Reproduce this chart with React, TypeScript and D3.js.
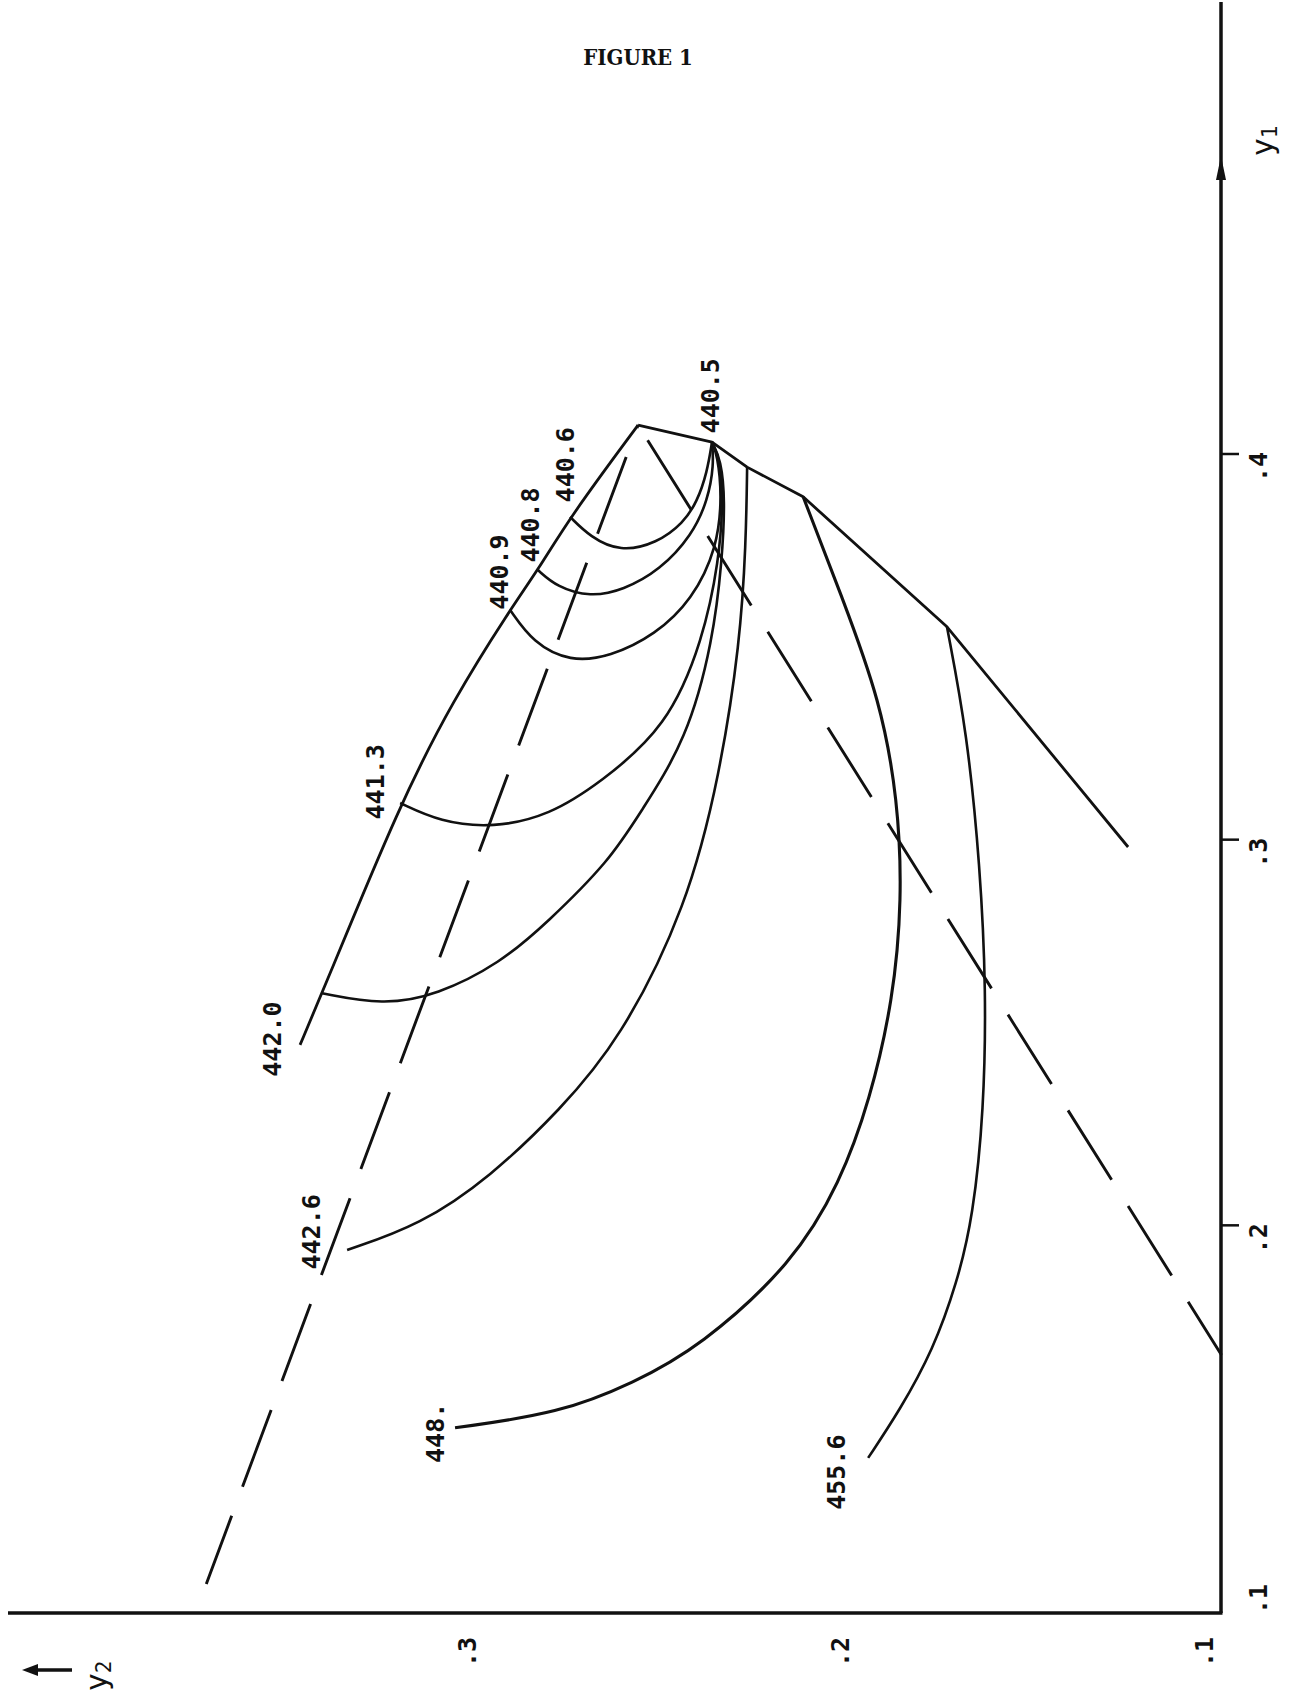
import React from 'react';
import * as d3 from 'd3';

// every point is [y2, y1]
type Pt = [number, number];

const envelopeUpper: Pt[] = [
  [0.2542, 0.4075], [0.2344, 0.4031], [0.225, 0.3966], [0.21, 0.3889], [0.1715, 0.3552], [0.123, 0.2981],
];
const envelopeLeft: Pt[] = [
  [0.2542, 0.4075], [0.2724, 0.3837], [0.281, 0.3699], [0.2885, 0.3596], [0.3037, 0.3362],
  [0.3179, 0.3095], [0.3388, 0.2602], [0.3447, 0.2468],
];
const dashedLeft: Pt[] = [[0.2542, 0.4075], [0.3698, 0.107]];
const dashedRight: Pt[] = [[0.2542, 0.4075], [0.098, 0.1664]];

const c4406: Pt[] = [
  [0.2724, 0.3837], [0.267, 0.3785], [0.259, 0.3746], [0.2491, 0.3769], [0.2421, 0.3821],
  [0.2384, 0.3876], [0.2357, 0.3953], [0.2344, 0.4031],
];
const c4408: Pt[] = [
  [0.281, 0.3699], [0.2759, 0.3655], [0.267, 0.3629], [0.2582, 0.3647], [0.2483, 0.3699],
  [0.2397, 0.379], [0.2355, 0.3881], [0.2339, 0.3972], [0.2344, 0.4031],
];
const c4409: Pt[] = [
  [0.2885, 0.3596], [0.2823, 0.351], [0.2724, 0.3461], [0.2617, 0.3474], [0.2496, 0.3531],
  [0.2397, 0.3622], [0.233, 0.3756], [0.2317, 0.3894], [0.233, 0.3998], [0.2344, 0.4031],
];
const c4413: Pt[] = [
  [0.3179, 0.3095], [0.3072, 0.3046], [0.293, 0.303], [0.2778, 0.3064], [0.2644, 0.3147],
  [0.2464, 0.3292], [0.2368, 0.3518], [0.2325, 0.3725], [0.2314, 0.3881], [0.2322, 0.3985], [0.2344, 0.4031],
];
const c4420: Pt[] = [
  [0.3388, 0.2602], [0.3225, 0.2571], [0.308, 0.2597], [0.2911, 0.268], [0.2786, 0.2784],
  [0.2617, 0.2947], [0.2537, 0.3069], [0.2411, 0.3259], [0.2341, 0.3518], [0.2317, 0.3725],
  [0.2309, 0.3881], [0.232, 0.3985], [0.2344, 0.4031],
];
const c4426: Pt[] = [
  [0.225, 0.3966], [0.2253, 0.3769], [0.2269, 0.351], [0.2322, 0.3173], [0.2411, 0.2825],
  [0.259, 0.2481], [0.2751, 0.2299], [0.2938, 0.2125], [0.3125, 0.2001], [0.3321, 0.1936],
];
const c448: Pt[] = [
  [0.21, 0.3889], [0.1993, 0.3622], [0.1894, 0.3362], [0.1846, 0.3103], [0.1835, 0.2844],
  [0.1859, 0.2584], [0.1921, 0.2325], [0.2001, 0.211], [0.2127, 0.1902], [0.2376, 0.1685],
  [0.2555, 0.1591], [0.2751, 0.1513], [0.3032, 0.1475],
];
const c4556: Pt[] = [
  [0.1715, 0.3552], [0.1661, 0.3277], [0.1626, 0.2929], [0.161, 0.261], [0.1616, 0.2299],
  [0.1645, 0.2022], [0.1688, 0.1851], [0.1752, 0.1677], [0.1841, 0.1521], [0.1926, 0.1397],
];

const curveLabels = ['440.5', '440.6', '440.8', '440.9', '441.3', '442.0', '442.6', '448.', '455.6'];
const curveLabelAt: Pt[] = [
  [0.2347, 0.4151], [0.2737, 0.3972], [0.2831, 0.3816], [0.2914, 0.3694], [0.3246, 0.315],
  [0.3522, 0.2483], [0.3415, 0.1983], [0.3083, 0.1462], [0.2012, 0.136],
];

const y1Ticks = [0.1, 0.2, 0.3, 0.4];
const y2Ticks = [0.1, 0.2, 0.3];
const fmt = (v: number) => d3.format('.1f')(v).replace(/^0/, '');

export default function App() {
  const x = d3.scaleLinear().domain([0.1, 0.3]).range([1214, 467]);
  const y = d3.scaleLinear().domain([0.1, 0.4]).range([1611, 454]);

  const straight = d3.line<Pt>().x(d => x(d[0])).y(d => y(d[1]));
  const smooth = d3.line<Pt>().x(d => x(d[0])).y(d => y(d[1])).curve(d3.curveBasis);

  const axX = 1221; // vertical y1 axis
  const axY = 1613; // horizontal y2 axis
  const ink = '#111';
  const mono = "'DejaVu Sans Mono', monospace";

  const solidCurves = [c4406, c4408, c4409, c4413, c4420, c4426, c4556];

  return (
    <svg width={1302} height={1701} style={{ position: 'absolute', left: 0, top: 0, display: 'block', background: '#fff' }}>
      <rect width={1302} height={1701} fill="#fff" />
      <text x={638} y={65} textAnchor="middle" fontFamily="'DejaVu Serif Condensed', 'DejaVu Serif', serif"
        fontStretch="condensed" fontWeight="bold" fontSize={22} fill={ink}>
        FIGURE 1
      </text>

      {/* axes */}
      <line x1={axX} y1={2} x2={axX} y2={axY} stroke={ink} strokeWidth={3.5} />
      <line x1={8} y1={axY} x2={axX + 1.5} y2={axY} stroke={ink} strokeWidth={3.5} />
      <path d={`M${axX},156 L${axX - 5},180 L${axX + 5},180 Z`} fill={ink} />
      <text transform={`translate(1262,141) rotate(-90)`} textAnchor="middle" dominantBaseline="central" fontFamily={mono} fontSize={30} fill={ink}>
        y<tspan fontSize={21} dy={8}>1</tspan>
      </text>
      <line x1={72} y1={1670} x2={34} y2={1670} stroke={ink} strokeWidth={3.5} />
      <path d="M22,1670 L38,1664 L38,1676 Z" fill={ink} />
      <text transform={`translate(96,1676) rotate(-90)`} textAnchor="middle" dominantBaseline="central" fontFamily={mono} fontSize={30} fill={ink}>
        y<tspan fontSize={21} dy={8}>2</tspan>
      </text>

      {y1Ticks.filter(v => v > 0.1).map(v => (
        <line key={'t' + v} x1={axX} y1={y(v)} x2={axX + 18} y2={y(v)} stroke={ink} strokeWidth={2.5} />
      ))}
      {y1Ticks.map(v => (
        <text key={'l' + v} transform={`translate(1258,${v === 0.1 ? y(v) - 12 : y(v) + 13}) rotate(-90)`} textAnchor="middle"
          dominantBaseline="central" fontFamily={mono} fontWeight="bold" fontSize={25} fill={ink}>
          {fmt(v)}
        </text>
      ))}
      {y2Ticks.map(v => (
        <text key={'b' + v} transform={`translate(${v === 0.1 ? x(v) - 10 : x(v)},1652) rotate(-90)`} textAnchor="middle"
          dominantBaseline="central" fontFamily={mono} fontWeight="bold" fontSize={25} fill={ink}>
          {fmt(v)}
        </text>
      ))}

      {/* envelopes */}
      <path d={straight(envelopeUpper) || ''} fill="none" stroke={ink} strokeWidth={2.8} strokeLinejoin="round" />
      <path d={smooth(envelopeLeft) || ''} fill="none" stroke={ink} strokeWidth={2.8} strokeLinejoin="round" />

      {/* dashed lines */}
      <path d={straight(dashedLeft) || ''} fill="none" stroke={ink} strokeWidth={2.9} strokeDasharray="82 31" strokeDashoffset={79} />
      <path d={straight(dashedRight) || ''} fill="none" stroke={ink} strokeWidth={2.9} strokeDasharray="82 31" strokeDashoffset={95} />

      {/* iso curves */}
      {solidCurves.map((c, i) => (
        <path key={i} d={smooth(c) || ''} fill="none" stroke={ink} strokeWidth={2.6} />
      ))}
      <path d={smooth(c448) || ''} fill="none" stroke={ink} strokeWidth={3.1} />

      {curveLabels.map((t, i) => (
        <text key={t} transform={`translate(${x(curveLabelAt[i][0])},${y(curveLabelAt[i][1])}) rotate(-90)`} textAnchor="middle"
          dominantBaseline="central" fontFamily={mono} fontWeight="bold" fontSize={25} fill={ink}>
          {t}
        </text>
      ))}
    </svg>
  );
}
